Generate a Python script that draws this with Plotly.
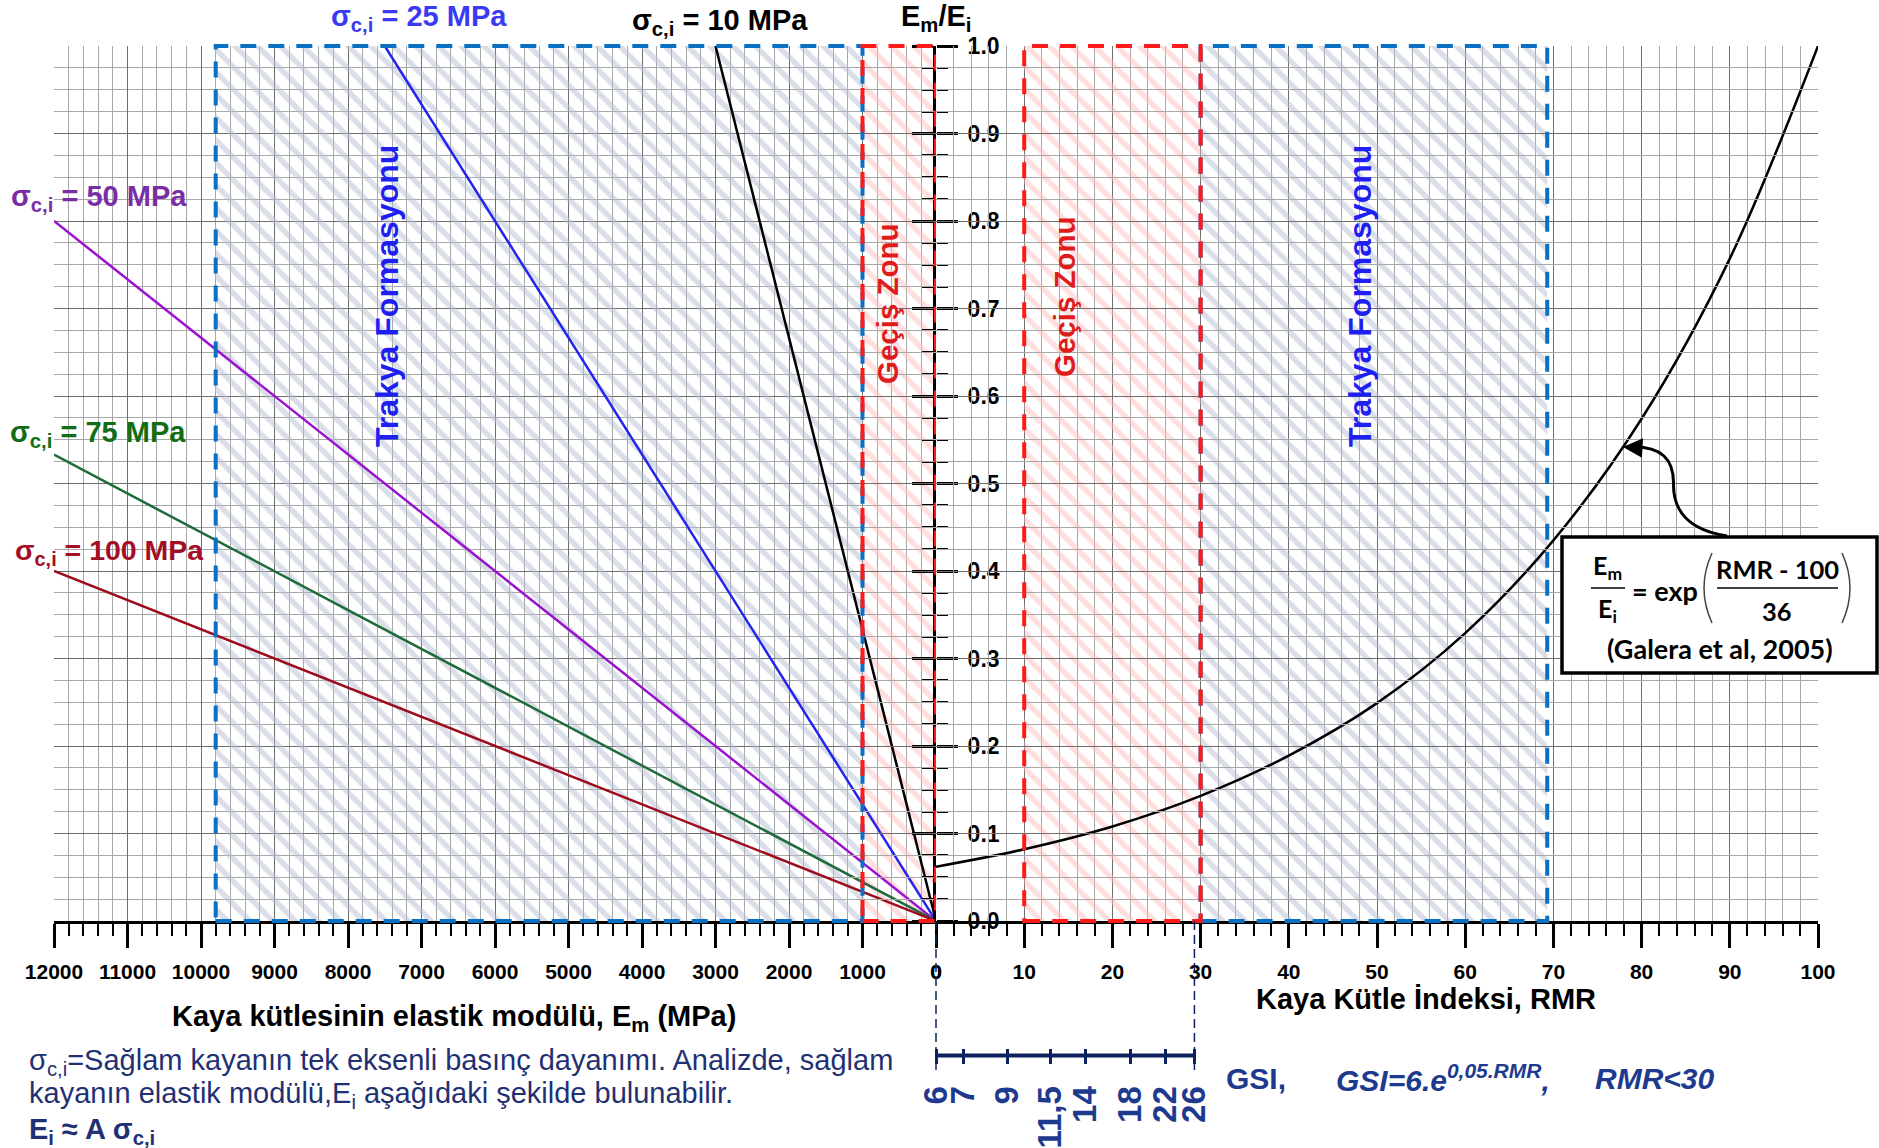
import plotly.graph_objects as go

# ---------------- data ----------------
sigma_label = ["10", "25", "50", "75", "100"]          # sigma_ci (MPa)
em_end = [3000, 7500, 12000, 12000, 12000]             # Em (MPa) at line end
ratio_end = [1.0, 1.0, 0.80, 0.533, 0.40]              # Em/Ei at line end
line_colors = ["#000000", "#2424F0", "#9A12CF", "#1F6B3C", "#9C0C1C"]
label_colors = ["#000000", "#3A3AF5", "#7A2EA6", "#0F6E16", "#A30D26"]

rmr_pts = [0, 10, 20, 30, 40, 50, 60, 70, 80, 90, 100]
ratio_pts = [0.062, 0.082, 0.108, 0.143, 0.189, 0.249, 0.329, 0.435, 0.574, 0.757, 1.0]

zone_span = [0, 1.0]
zone_left_trakya = [9800, 1000]
zone_left_gecis = [1000, 0]
zone_right_gecis = [10, 30]
zone_right_trakya = [30, 69.3]

gsi_labels = ["6", "7", "9", "11,5", "14", "18", "22", "26"]
gsi_rmr = [0, 3.1, 8.1, 13.0, 16.9, 22.0, 26.0, 29.3]

# ---------------- layout helpers ----------------
W, H = 1879, 1148
L, R, T, B = 54, 61, 46, 0
PW, PH = W - L - R, H - T - B


def fx(px):
    return (px - L) / PW


def fy(py):
    return (H - B - py) / PH


Y0 = fy(921)  # bottom of the main plotting area (paper)
F = "Liberation Sans, Arial, sans-serif"
NAVY = "#1F3172"
GSI_C = "#1E3A8F"
BLUE_H = "#B3BDD4"
RED_H = "#FFBDBD"
BLUE_D = "#0A70C4"
RED_D = "#FF1A1A"
GRID_MAJ = "#6E6E6E"
GRID_MIN = "#A8A8A8"

fig = go.Figure()


def zone_trace(xr, xa, fg):
    return go.Scatter(
        x=[xr[0], xr[1], xr[1], xr[0], xr[0]],
        y=[zone_span[0], zone_span[0], zone_span[1], zone_span[1], zone_span[0]],
        xaxis=xa, yaxis="y", mode="lines", line=dict(width=0),
        fill="toself", fillcolor="rgba(0,0,0,0)",
        fillpattern=dict(shape="\\", fgcolor=fg, size=16, solidity=0.34),
        hoverinfo="skip", showlegend=False)


fig.add_trace(zone_trace(zone_left_trakya, "x", BLUE_H))
fig.add_trace(zone_trace(zone_left_gecis, "x", RED_H))
fig.add_trace(zone_trace(zone_right_trakya, "x2", BLUE_H))
fig.add_trace(zone_trace(zone_right_gecis, "x2", RED_H))

for xe, ye, c in zip(em_end, ratio_end, line_colors):
    fig.add_trace(go.Scatter(x=[0, xe], y=[0, ye], xaxis="x", yaxis="y", mode="lines",
                             line=dict(color=c, width=2.5), hoverinfo="skip", showlegend=False))

fig.add_trace(go.Scatter(x=rmr_pts, y=ratio_pts, xaxis="x2", yaxis="y", mode="lines",
                         line=dict(color="black", width=2.5, shape="spline"),
                         hoverinfo="skip", showlegend=False))

# dummy traces so that the helper axes exist
fig.add_trace(go.Scatter(x=[None], y=[None], xaxis="x", yaxis="y2", showlegend=False, hoverinfo="skip"))
fig.add_trace(go.Scatter(x=[None], y=[None], xaxis="x3", yaxis="y", showlegend=False, hoverinfo="skip"))

tickfont = dict(family=F, size=21, color="black", weight="bold")

common_x = dict(
    ticks="outside", ticklen=24, tickwidth=2.5, tickcolor="black",
    showline=True, linecolor="black", linewidth=3,
    showgrid=True, gridcolor=GRID_MAJ, gridwidth=1.2, zeroline=False,
    tickfont=tickfont, ticklabelstandoff=6, automargin=False, fixedrange=True,
)

fig.update_layout(
    width=W, height=H, margin=dict(l=L, r=R, t=T, b=B),
    paper_bgcolor="white", plot_bgcolor="rgba(0,0,0,0)", showlegend=False,
    xaxis=dict(domain=[0, 0.5], range=[12000, 0], anchor="y", tickmode="linear", tick0=0, dtick=1000,
               tickformat="d",
               minor=dict(tick0=0, dtick=200, ticks="outside", ticklen=12, tickwidth=2, tickcolor="black",
                          showgrid=True, gridcolor=GRID_MIN, gridwidth=1),
               **common_x),
    xaxis2=dict(domain=[0.5, 1], range=[0, 100], anchor="y", tickmode="linear", tick0=0, dtick=10,
                tickformat="d",
                minor=dict(tick0=0, dtick=2, ticks="outside", ticklen=12, tickwidth=2, tickcolor="black",
                           showgrid=True, gridcolor=GRID_MIN, gridwidth=1),
                **common_x),
    xaxis3=dict(domain=[0.45, 1], range=[-10, 100], anchor="free", position=fy(1048), side="bottom",
                tickmode="array", tickvals=gsi_rmr, ticktext=gsi_labels, tickangle=-90,
                ticks="outside", ticklen=15, tickwidth=2.5, tickcolor="#0D225E",
                showline=False, showgrid=False, zeroline=False, ticklabelstandoff=9,
                tickfont=dict(family=F, size=33, color=GSI_C, weight="bold"),
                automargin=False, fixedrange=True),
    yaxis=dict(domain=[Y0, 1], range=[0, 1], anchor="x2", side="left", tickmode="linear", tick0=0, dtick=0.1,
               ticks="outside", ticklen=21, tickwidth=2.5, tickcolor="black", showticklabels=False,
               showline=True, linecolor="black", linewidth=3, zeroline=False,
               showgrid=True, gridcolor=GRID_MAJ, gridwidth=1.2,
               minor=dict(tick0=0, dtick=0.025, ticks="outside", ticklen=11, tickwidth=2, tickcolor="black",
                          showgrid=True, gridcolor=GRID_MIN, gridwidth=1),
               automargin=False, fixedrange=True),
    yaxis2=dict(domain=[Y0, 1], range=[0, 1], anchor="x", side="right", overlaying="y",
                tickmode="linear", tick0=0, dtick=0.1, tickformat=".1f",
                ticks="outside", ticklen=21, tickwidth=2.5, tickcolor="black",
                minor=dict(tick0=0, dtick=0.025, ticks="outside", ticklen=11, tickwidth=2, tickcolor="black"),
                showline=False, showgrid=False, zeroline=False, ticklabelstandoff=5,
                tickfont=dict(family=F, size=23, color="black", weight="bold"),
                automargin=False, fixedrange=True),
)

shapes = []


def outline(xr, xref, color):
    return dict(type="rect", xref=xref, yref="paper", x0=xr[0], x1=xr[1], y0=Y0, y1=1,
                line=dict(color=color, width=4, dash="16px,12px"), fillcolor="rgba(0,0,0,0)", layer="above")


shapes.append(outline(zone_left_trakya, "x", BLUE_D))
shapes.append(outline(zone_left_gecis, "x", RED_D))
shapes.append(outline(zone_right_trakya, "x2", BLUE_D))
shapes.append(outline(zone_right_gecis, "x2", RED_D))

# GSI scale
shapes.append(dict(type="line", xref="x3", yref="paper", x0=gsi_rmr[0], x1=gsi_rmr[-1],
                   y0=fy(1055.5), y1=fy(1055.5), line=dict(color="#0D225E", width=4), layer="above"))
for gx in (gsi_rmr[0], gsi_rmr[-1]):
    shapes.append(dict(type="line", xref="x3", yref="paper", x0=gx, x1=gx, y0=Y0, y1=fy(1070),
                       line=dict(color="#0D225E", width=1.5, dash="9px,5px"), layer="above"))

# formula box
shapes.append(dict(type="rect", xref="paper", yref="paper", x0=fx(1562), x1=fx(1877), y0=fy(537), y1=fy(673),
                   line=dict(color="black", width=3.5), fillcolor="white", layer="above"))
shapes.append(dict(type="line", xref="paper", yref="paper", x0=fx(1591), x1=fx(1625), y0=fy(588), y1=fy(588),
                   line=dict(color="black", width=1.5), layer="above"))
shapes.append(dict(type="line", xref="paper", yref="paper", x0=fx(1717), x1=fx(1838), y0=fy(588), y1=fy(588),
                   line=dict(color="black", width=1.5), layer="above"))

lp = "M {},{} Q {},{} {},{}".format(fx(1712), fy(553), fx(1696), fy(588), fx(1712), fy(623))
rp = "M {},{} Q {},{} {},{}".format(fx(1842), fy(553), fx(1858), fy(588), fx(1842), fy(623))
shapes.append(dict(type="path", xref="paper", yref="paper", path=lp, line=dict(color="#444", width=1.5), layer="above"))
shapes.append(dict(type="path", xref="paper", yref="paper", path=rp, line=dict(color="#444", width=1.5), layer="above"))

arrow = "M {},{} C {},{} {},{} {},{} C {},{} {},{} {},{}".format(
    fx(1727), fy(536), fx(1688), fy(530), fx(1673), fy(510), fx(1673.5), fy(484),
    fx(1674), fy(458), fx(1660), fy(447), fx(1634), fy(447))
shapes.append(dict(type="path", xref="paper", yref="paper", path=arrow, line=dict(color="black", width=3),
                   layer="above"))

fig.update_layout(shapes=shapes)

ann = []


def txt(text, px, py, size, color="black", xa="center", ya="middle", angle=0, family=F, bold=True):
    ann.append(dict(text=text, x=fx(px), y=fy(py), xref="paper", yref="paper", showarrow=False,
                    xanchor=xa, yanchor=ya, textangle=angle,
                    font=dict(family=family, size=size, color=color, weight="bold" if bold else "normal")))


txt("E<sub>m</sub>/E<sub>i</sub>", 936, 18, 29)
txt("σ", 316, -9, 27, color="#1B2A5E")
txt("σ<sub>c,i</sub> = " + sigma_label[1] + " MPa", 419, 18, 29, color=label_colors[1])
txt("σ<sub>c,i</sub> = " + sigma_label[0] + " MPa", 720, 22, 29, color=label_colors[0])
txt("σ<sub>c,i</sub> = " + sigma_label[2] + " MPa", 9, 198, 29, color=label_colors[2], xa="left")
txt("σ<sub>c,i</sub> = " + sigma_label[3] + " MPa", 8, 434, 29, color=label_colors[3], xa="left")
txt("σ<sub>c,i</sub> = " + sigma_label[4] + " MPa", 13, 552, 28.5, color=label_colors[4], xa="left")

txt("Trakya Formasyonu", 387, 296, 32, color="#1F1FF2", angle=-90)
txt("Trakya Formasyonu", 1360, 296, 32, color="#1F1FF2", angle=-90)
txt("Geçiş Zonu", 887, 304, 29.5, color="#E01B1B", angle=-90)
txt("Geçiş Zonu", 1064, 297, 29.5, color="#E01B1B", angle=-90)

txt("Kaya kütlesinin elastik modülü, E<sub>m</sub> (MPa)", 454, 1018, 29)
txt("Kaya Kütle İndeksi, RMR", 1426, 999, 29)

txt("σ<sub>c,i</sub>=Sağlam kayanın tek eksenli basınç dayanımı. Analizde, sağlam", 27, 1062, 29,
    color=NAVY, xa="left", bold=False)
txt("kayanın elastik modülü,E<sub>i</sub> aşağıdaki şekilde bulunabilir.", 27, 1095, 29,
    color=NAVY, xa="left", bold=False)
txt("E<sub>i</sub> ≈ A σ<sub>c,i</sub>", 27, 1131, 29, color=NAVY, xa="left")

txt("GSI,", 1224, 1078, 30, color=GSI_C, xa="left")
txt("<i>GSI=6.e<sup>0,05.RMR</sup>,</i>", 1334, 1078, 30, color=GSI_C, xa="left")
txt("<i>RMR<30</i>", 1593, 1078, 30, color=GSI_C, xa="left")

LF = "Lato, Noto Sans, sans-serif"
txt("E<sub>m</sub>", 1607, 567, 25, family=LF)
txt("E<sub>i</sub>", 1607, 610, 25, family=LF)
txt("= exp", 1665, 590, 27, family=LF)
txt("RMR - 100", 1777, 569, 25.5, family=LF)
txt("36", 1777, 611, 25.5, family=LF)
txt("(Galera et al, 2005)", 1720, 648, 27, family=LF)

ann.append(dict(text="", x=fx(1623), y=fy(447), xref="paper", yref="paper", showarrow=True,
                ax=18, ay=1, arrowhead=2, arrowsize=1.3, arrowwidth=3, arrowcolor="black"))

fig.update_layout(annotations=ann)

fig.write_html("out.html")
